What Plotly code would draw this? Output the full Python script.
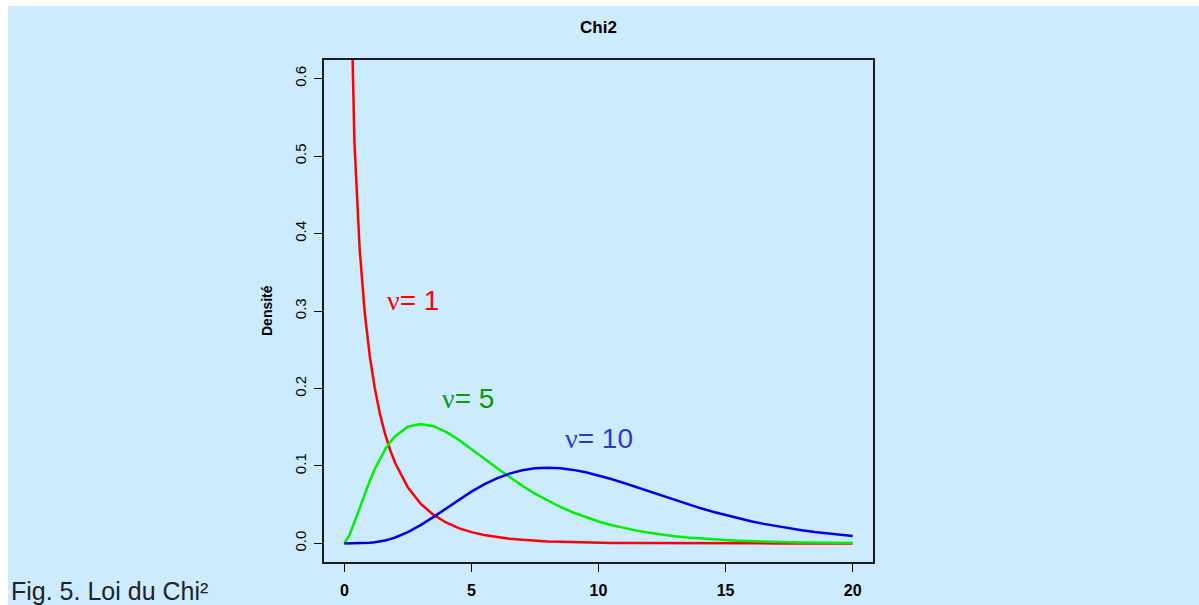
import plotly.graph_objects as go

x_vals = [0, 0.2, 0.4, 0.6, 0.8, 1.0, 1.2, 1.4, 1.6, 1.8, 2.0,
          2.5, 3.0, 3.5, 4.0, 4.5, 5.0, 5.5, 6.0, 6.5, 7.0, 7.5, 8.0, 8.5, 9.0, 9.5, 10.0,
          10.5, 11.0, 11.5, 12.0, 12.5, 13.0, 13.5, 14.0, 14.5, 15.0, 15.5, 16.0, 16.5,
          17.0, 17.5, 18.0, 18.5, 19.0, 19.5, 20.0]

dens_df1 = [None, 0.8072, 0.5164, 0.3815, 0.2990, 0.2420, 0.1999, 0.1674, 0.1417, 0.1209, 0.1038,
            0.0723, 0.0514, 0.0371, 0.0270, 0.0198, 0.0146, 0.0109, 0.0081, 0.0061, 0.0046, 0.0034,
            0.0026, 0.0020, 0.0015, 0.0011, 0.00085, 0.00065, 0.00049, 0.00037, 0.00029, 0.00022,
            0.00017, 0.00013, 0.000097, 0.000074, 0.000057, 0.000044, 0.000033, 0.000026, 0.00002,
            0.000015, 0.000012, 0.000009, 0.000007, 0.000006, 0.000005]

dens_df5 = [0, 0.01076, 0.02754, 0.04579, 0.06378, 0.08066, 0.09594, 0.10939, 0.12093, 0.13057, 0.13837,
            0.15060, 0.15418, 0.15131, 0.14398, 0.13380, 0.12204, 0.10965, 0.09730, 0.08545, 0.07437,
            0.06424, 0.05511, 0.04701, 0.03989, 0.03369, 0.02833, 0.02374, 0.01983, 0.01651, 0.01370,
            0.01134, 0.00937, 0.00772, 0.00635, 0.00521, 0.00427, 0.00350, 0.00285, 0.00233, 0.00189,
            0.00154, 0.00125, 0.00102, 0.00082, 0.00067, 0.00054]

dens_df10 = [0, 0.0000019, 0.0000273, 0.000125, 0.000358, 0.00079, 0.00148, 0.00248, 0.00383, 0.00556, 0.00766,
             0.01457, 0.02353, 0.03395, 0.04511, 0.05628, 0.06680, 0.07617, 0.08402, 0.09012, 0.09440,
             0.09689, 0.09768, 0.09695, 0.09490, 0.09176, 0.08773, 0.08306, 0.07791, 0.07249, 0.06693,
             0.06135, 0.05591, 0.05064, 0.04561, 0.04088, 0.03646, 0.03237, 0.02863, 0.02521, 0.02213,
             0.01935, 0.01687, 0.01466, 0.01270, 0.01098, 0.00946]

x_ticks = [0, 5, 10, 15, 20]
y_ticks = [0.0, 0.1, 0.2, 0.3, 0.4, 0.5, 0.6]
y_tick_labels = ["0.0", "0.1", "0.2", "0.3", "0.4", "0.5", "0.6"]

labels = ["1", "5", "10"]
label_x = [2.7, 4.85, 10.0]
label_y = [0.3135, 0.1865, 0.136]
label_colors = ["#FF0000", "#0A9A0A", "#3535CC"]
line_colors = ["#FF0000", "#00F000", "#0000F0"]

BG = "#CCEBFF"
W, H = 1199, 605
L, R, T, B = 324, 326, 60, 43
FONT = "Liberation Sans, Arial"

fig = go.Figure()
for ys, col in zip([dens_df1, dens_df5, dens_df10], line_colors):
    fig.add_trace(go.Scatter(x=x_vals, y=ys, mode="lines",
                             line=dict(color=col, width=2.5), showlegend=False,
                             hoverinfo="skip"))

for lab, lx, ly, c in zip(labels, label_x, label_y, label_colors):
    fig.add_annotation(x=lx, y=ly, xref="x", yref="y", showarrow=False,
                       xanchor="center", yanchor="middle",
                       text='<span style="font-family:Liberation Serif, serif">\u03bd</span>= ' + lab,
                       font=dict(family=FONT, size=28, color=c))

pw = W - L - R
ph = H - T - B


def px_x(p):
    return (p - L) / pw


def px_y(p):
    return (H - B - p) / ph


fig.add_annotation(x=0.5, y=px_y(27), xref="paper", yref="paper", showarrow=False,
                   xanchor="center", yanchor="middle",
                   text="<b>Chi2</b>", font=dict(family=FONT, size=17, color="#000000"))
fig.add_annotation(x=px_x(267), y=px_y(311), xref="paper", yref="paper", showarrow=False,
                   xanchor="center", yanchor="middle",
                   text="<b>Densité</b>", textangle=-90,
                   font=dict(family=FONT, size=14, color="#000000"))
fig.add_annotation(x=px_x(9), y=px_y(591), xref="paper", yref="paper", showarrow=False,
                   xanchor="left", yanchor="middle", text="Fig. 5. Loi du Chi²",
                   font=dict(family=FONT, size=25, color="#222222"))

# white strips at top and left border
fig.add_shape(type="rect", xref="paper", yref="paper", x0=px_x(-5), x1=px_x(8),
              y0=px_y(H + 5), y1=px_y(-5), fillcolor="white", line=dict(width=0), layer="below")
fig.add_shape(type="rect", xref="paper", yref="paper", x0=px_x(-5), x1=px_x(W + 5),
              y0=px_y(6), y1=px_y(-5), fillcolor="white", line=dict(width=0), layer="below")

fig.update_xaxes(range=[-0.8, 20.8], tickvals=x_ticks,
                 ticktext=["<b>%d</b>" % t for t in x_ticks],
                 ticks="outside", ticklen=8, tickwidth=1.2, tickcolor="#000",
                 ticklabelstandoff=5, automargin=False,
                 showline=True, linecolor="#1a1a1a", linewidth=1.5, mirror=True,
                 showgrid=False, zeroline=False,
                 tickfont=dict(family=FONT, size=16, color="#000"))
fig.update_yaxes(range=[-0.024, 0.624], tickvals=y_ticks, ticktext=y_tick_labels,
                 ticks="outside", ticklen=8, tickwidth=1.2, tickcolor="#000", tickangle=-90,
                 ticklabelstandoff=2, automargin=False,
                 showline=True, linecolor="#1a1a1a", linewidth=1.5, mirror=True,
                 showgrid=False, zeroline=False,
                 tickfont=dict(family=FONT, size=15, color="#000"))

fig.update_layout(width=W, height=H, margin=dict(l=L, r=R, t=T, b=B),
                  paper_bgcolor=BG, plot_bgcolor=BG)

fig.write_html("out.html")
